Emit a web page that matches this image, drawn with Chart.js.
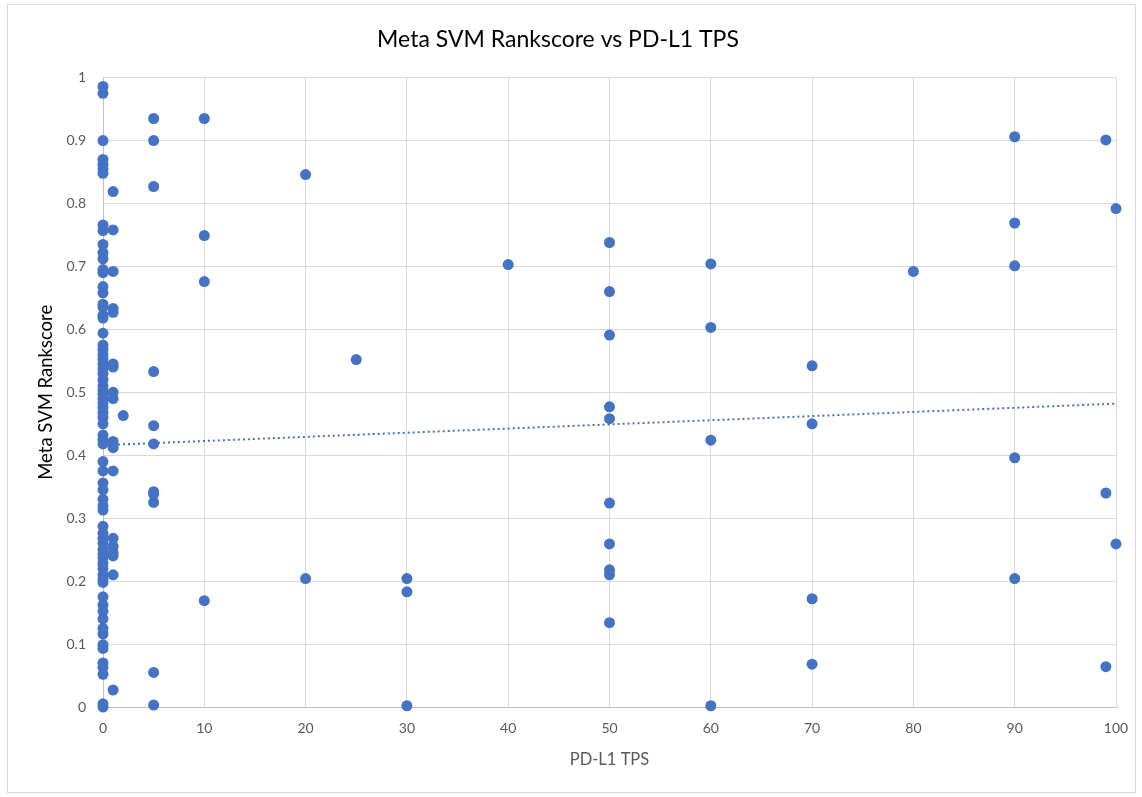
<!DOCTYPE html>
<html>
<head>
<meta charset="utf-8">
<title>Meta SVM Rankscore vs PD-L1 TPS</title>
<script src="https://cdn.jsdelivr.net/npm/chart.js@4/dist/chart.umd.min.js"></script>
<style>
    body { margin: 0; background: #fff; }
    canvas { display: block; }
</style>
</head>
<body>
<canvas id="scoreChart" width="1142" height="797"></canvas>
<script>
// PD-L1 TPS levels and the rankscores read at each level
const tpsLevels = [0, 1, 2, 5, 10, 20, 25, 30, 40, 50, 60, 70, 80, 90, 99, 100];
const rankscores = [
    [0.986, 0.975, 0.90, 0.87, 0.862, 0.855, 0.848, 0.766, 0.757, 0.735, 0.722, 0.712, 0.695, 0.69,
     0.668, 0.658, 0.64, 0.635, 0.622, 0.618, 0.594, 0.575, 0.568, 0.56, 0.553, 0.545, 0.537, 0.53,
     0.52, 0.51, 0.503, 0.497, 0.49, 0.483, 0.476, 0.468, 0.46, 0.45, 0.432, 0.425, 0.418, 0.39,
     0.375, 0.356, 0.345, 0.33, 0.32, 0.313, 0.287, 0.276, 0.268, 0.26, 0.25, 0.243, 0.237, 0.228,
     0.22, 0.21, 0.203, 0.198, 0.175, 0.162, 0.152, 0.14, 0.125, 0.116, 0.099, 0.093, 0.07, 0.063,
     0.052, 0.005, 0.0],
    [0.819, 0.758, 0.692, 0.633, 0.627, 0.545, 0.54, 0.5, 0.49, 0.422, 0.412, 0.375, 0.268, 0.255,
     0.245, 0.24, 0.21, 0.027],
    [0.463],
    [0.935, 0.90, 0.827, 0.533, 0.447, 0.418, 0.342, 0.338, 0.325, 0.055, 0.003],
    [0.935, 0.749, 0.676, 0.169],
    [0.846, 0.204],
    [0.552],
    [0.204, 0.183, 0.002],
    [0.703],
    [0.738, 0.66, 0.591, 0.477, 0.458, 0.324, 0.259, 0.218, 0.21, 0.134],
    [0.704, 0.603, 0.424, 0.002],
    [0.542, 0.45, 0.172, 0.068],
    [0.692],
    [0.906, 0.769, 0.701, 0.396, 0.204],
    [0.901, 0.34, 0.064],
    [0.792, 0.259]
];

// linear trendline end points as drawn
const trendX = [0, 100];
const trendY = [0.416, 0.482];

const xTicks = [0, 10, 20, 30, 40, 50, 60, 70, 80, 90, 100];
const yTicks = [0, 0.1, 0.2, 0.3, 0.4, 0.5, 0.6, 0.7, 0.8, 0.9, 1];

const pointBlue = '#4472C4';
const gridGray = '#d9d9d9';
const textGray = '#595959';
const fontFamily = 'Lato, "Liberation Sans", sans-serif';

// white background and thin frame round the chart
const framePlugin = {
    id: 'frame',
    beforeDraw(chart) {
        const ctx = chart.ctx;
        ctx.save();
        ctx.fillStyle = '#fff';
        ctx.fillRect(0, 0, chart.width, chart.height);
        ctx.strokeStyle = gridGray;
        ctx.lineWidth = 1;
        ctx.strokeRect(7.5, 4.5, 1128, 788);
        ctx.restore();
    }
};

function buildPoints() {
    const points = [];
    tpsLevels.forEach((tps, i) => {
        rankscores[i].forEach(score => points.push({ x: tps, y: score }));
    });
    return points;
}

function createScoreChart() {
    const ctx = document.getElementById('scoreChart').getContext('2d');
    return new Chart(ctx, {
        type: 'scatter',
        data: {
            datasets: [{
                label: 'Meta SVM Rankscore',
                data: buildPoints(),
                backgroundColor: pointBlue,
                borderWidth: 0,
                pointRadius: 5.5,
                pointHoverRadius: 5.5,
                clip: false
            }, {
                type: 'line',
                label: 'Linear trend',
                data: trendX.map((x, i) => ({ x: x, y: trendY[i] })),
                borderColor: pointBlue,
                borderWidth: 2,
                borderDash: [2, 3],
                pointRadius: 0,
                fill: false
            }]
        },
        options: {
            responsive: false,
            animation: false,
            devicePixelRatio: 1,
            layout: { padding: { left: 0, right: 26, top: 0, bottom: 15 } },
            plugins: {
                legend: { display: false },
                tooltip: { enabled: false },
                title: {
                    display: true,
                    text: 'Meta SVM Rankscore vs PD-L1 TPS',
                    color: '#000',
                    font: { family: fontFamily, size: 23, weight: 'normal' },
                    padding: { top: 26, bottom: 24 }
                }
            },
            scales: {
                x: {
                    type: 'linear',
                    min: 0,
                    max: 100,
                    afterBuildTicks: scale => { scale.ticks = xTicks.map(v => ({ value: v })); },
                    afterFit: scale => { scale.height = 75; },
                    grid: { color: gridGray, drawTicks: false },
                    border: { color: '#bfbfbf' },
                    ticks: {
                        color: textGray,
                        padding: 13,
                        font: { family: fontFamily, size: 14 }
                    },
                    title: {
                        display: true,
                        text: 'PD-L1 TPS',
                        color: textGray,
                        font: { family: fontFamily, size: 16.5 },
                        padding: { bottom: 12 }
                    }
                },
                y: {
                    type: 'linear',
                    min: 0,
                    max: 1,
                    afterBuildTicks: scale => { scale.ticks = yTicks.map(v => ({ value: v })); },
                    afterFit: scale => { scale.width = 103; },
                    grid: { color: gridGray, drawTicks: false },
                    border: { color: '#bfbfbf' },
                    ticks: {
                        color: textGray,
                        padding: 17,
                        font: { family: fontFamily, size: 14 },
                        callback: value => String(Math.round(value * 10) / 10)
                    },
                    title: {
                        display: true,
                        text: 'Meta SVM Rankscore',
                        color: '#000',
                        font: { family: fontFamily, size: 18.5 },
                        padding: { top: 35 }
                    }
                }
            }
        },
        plugins: [framePlugin]
    });
}

let chart;
document.addEventListener('DOMContentLoaded', () => {
    chart = createScoreChart();
});
</script>
</body>
</html>
